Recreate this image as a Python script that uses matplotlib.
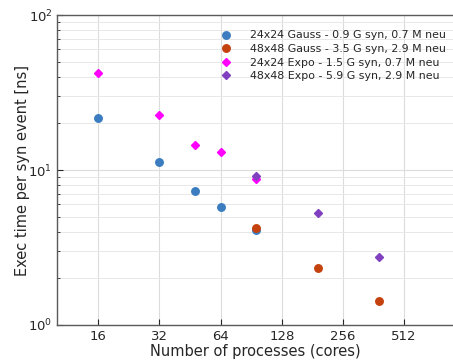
import numpy as np
import matplotlib.pyplot as plt
from matplotlib.ticker import FixedLocator, FixedFormatter, LogLocator, NullFormatter

# data
gauss24_x = [16, 32, 48, 64, 96]
gauss24_y = [21.6, 11.2, 7.3, 5.8, 4.1]
gauss48_x = [96, 192, 384]
gauss48_y = [4.22, 2.32, 1.42]
expo24_x = [16, 32, 48, 64, 96]
expo24_y = [42.0, 22.8, 14.6, 13.0, 8.8]
expo48_x = [96, 192, 384]
expo48_y = [9.1, 5.27, 2.74]

labels = ['24x24 Gauss - 0.9 G syn, 0.7 M neu',
          '48x48 Gauss - 3.5 G syn, 2.9 M neu',
          '24x24 Expo - 1.5 G syn, 0.7 M neu',
          '48x48 Expo - 5.9 G syn, 2.9 M neu']
xticks = [16, 32, 64, 128, 256, 512]

fig = plt.figure(figsize=(4.53, 3.6), dpi=100)
ax = fig.add_axes([57.3 / 453, 35 / 360, 1 - 57.3 / 453 + 0.002, 310 / 360])

ax.plot(gauss24_x, gauss24_y, 'o', color='#3b7dc0', ms=5.4, label=labels[0], zorder=3)
ax.plot(gauss48_x, gauss48_y, 'o', color='#c4420e', ms=5.4, label=labels[1], zorder=4)
ax.plot(expo24_x, expo24_y, 'D', color='#ff00ff', ms=4.4, label=labels[2], zorder=3)
ax.plot(expo48_x, expo48_y, 'D', color='#8040c0', ms=4.4, label=labels[3], zorder=3)

ax.set_xscale('log', base=2)
ax.set_yscale('log')
ax.set_xlim(10.05, 900)
ax.set_ylim(1, 100)

ax.xaxis.set_major_locator(FixedLocator(xticks))
ax.xaxis.set_major_formatter(FixedFormatter([str(t) for t in xticks]))
ax.xaxis.set_minor_locator(FixedLocator([]))
ax.yaxis.set_major_locator(LogLocator(base=10))
ax.yaxis.set_minor_locator(LogLocator(base=10, subs=np.arange(2, 10)))
ax.yaxis.set_minor_formatter(NullFormatter())

ax.grid(True, which='major', color='#dcdcdc', lw=0.8)
ax.grid(True, which='minor', axis='y', color='#e8e8e8', lw=0.7)
ax.set_axisbelow(True)

ax.tick_params(which='both', direction='in', labelsize=9.5, colors='#262626',
               top=False, right=False)
ax.tick_params(which='major', length=4)
ax.tick_params(which='minor', length=2)
for s in ['left', 'bottom', 'top']:
    ax.spines[s].set_color('#5a5a5a')
    ax.spines[s].set_linewidth(1.0)
ax.spines['right'].set_visible(False)

ax.set_xlabel('Number of processes (cores)', fontsize=10.5, color='#262626', labelpad=1)
ax.set_ylabel('Exec time per syn event [ns]', fontsize=10.5, color='#262626', labelpad=-1)

leg = ax.legend(loc='upper right', bbox_to_anchor=(1.0, 0.975), fontsize=7.9, frameon=False,
                handletextpad=1.6, labelspacing=0.33, borderaxespad=0.3, handlelength=1.2)
for t in leg.get_texts():
    t.set_color('#262626')

fig.savefig('out.png', dpi=100)
